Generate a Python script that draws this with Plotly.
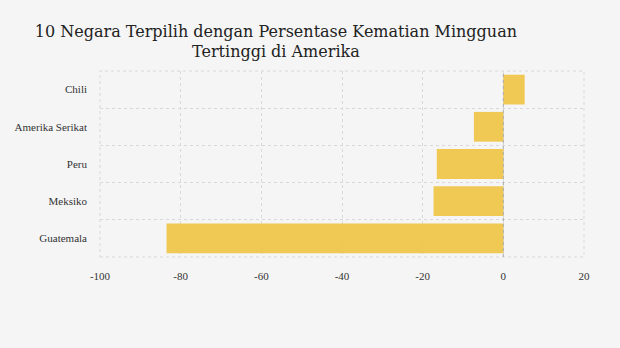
import plotly.graph_objects as go

countries = ["Guatemala", "Meksiko", "Peru", "Amerika Serikat", "Chili"]
values = [-83.5, -17.3, -16.5, -7.3, 5.3]
x_ticks = [-100, -80, -60, -40, -20, 0, 20]
x_tick_labels = [str(v) for v in x_ticks]
title_text = "10 Negara Terpilih dengan Persentase Kematian Mingguan<br>Tertinggi di Amerika"

grid_col = "#d9d9d9"

fig = go.Figure()
fig.add_trace(go.Bar(
    x=values, y=countries, orientation="h",
    marker=dict(color="#f0c443", line=dict(width=0)),
    opacity=0.9,
    width=0.8,
    hoverinfo="x+y",
))

fig.update_layout(
    width=620, height=348,
    paper_bgcolor="#f5f5f5", plot_bgcolor="#f5f5f5",
    margin=dict(l=100, r=36, t=71, b=91),
    showlegend=False,
    title=dict(text=title_text, x=0.445, xanchor="center", y=0.895, yanchor="middle",
               yref="container",
               font=dict(family="DejaVu Serif", size=16, color="#222")),
    font=dict(family="Liberation Serif", size=11, color="#333"),
    xaxis=dict(range=[-100, 20], tickvals=x_ticks, ticktext=x_tick_labels,
               showgrid=True, gridcolor=grid_col,
               griddash="dot", gridwidth=1, zeroline=False, showline=False,
               ticks="", tickfont=dict(size=11, color="#333"), ticklabelstandoff=11),
    yaxis=dict(type="category", categoryorder="array", categoryarray=countries,
               tickson="boundaries", showgrid=True, gridcolor=grid_col, griddash="dot",
               gridwidth=1, zeroline=False, showline=False, ticks="",
               ticklabelstandoff=12, tickfont=dict(size=11, color="#333")),
)

fig.add_shape(type="rect", xref="paper", yref="paper", x0=0, x1=1, y0=0, y1=1,
              line=dict(color=grid_col, width=1, dash="dot"), layer="below")
fig.add_shape(type="line", xref="x", yref="paper", x0=0, x1=0, y0=0, y1=1,
              line=dict(color="#aaaaaa", width=1, dash="dot"), layer="above")

fig.write_html("out.html")
